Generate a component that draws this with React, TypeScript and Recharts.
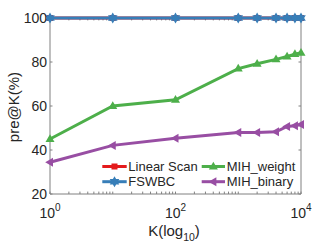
import React from 'react';
import { LineChart, Line, XAxis, YAxis, ReferenceLine, Legend } from 'recharts';

const K_VALUES = [1, 10, 100, 1000, 2000, 4000, 6000, 8000, 10000];
const LINEAR_SCAN = [100, 100, 100, 100, 100, 100, 100, 100, 100];
const FSWBC = [100, 100, 100, 100, 100, 100, 100, 100, 100];
const MIH_WEIGHT = [45, 60, 62.8, 77, 79.2, 81.2, 82.5, 83.6, 84.2];
const MIH_BINARY = [34.4, 42.1, 45.3, 48, 48, 48.3, 50.7, 51, 51.6];

const X_TICKS = [1, 100, 10000];
const Y_TICKS = [20, 40, 60, 80, 100];
const X_MINOR_TICKS = [
  1, 2, 3, 4, 5, 6, 7, 8, 9,
  10, 20, 30, 40, 50, 60, 70, 80, 90,
  100, 200, 300, 400, 500, 600, 700, 800, 900,
  1000, 2000, 3000, 4000, 5000, 6000, 7000, 8000, 9000,
  10000,
];

const FONT = '"Liberation Sans", Arial, Helvetica, sans-serif';
const AXIS = '#808080';
const TEXT = '#262626';

const COLORS = {
  linear: '#e41a1c',
  fswbc: '#377eb8',
  weight: '#4daf4a',
  binary: '#984ea3',
};

const data = K_VALUES.map((k, i) => ({
  k,
  linear: LINEAR_SCAN[i],
  fswbc: FSWBC[i],
  weight: MIH_WEIGHT[i],
  binary: MIH_BINARY[i],
}));

type Shape = 'square' | 'hexagram' | 'up' | 'left';

const Marker = ({ cx, cy, shape, color }: { cx: number; cy: number; shape: Shape; color: string }) => {
  if (shape === 'square') {
    return <rect x={cx - 3} y={cy - 3} width={6} height={6} fill={color} />;
  }
  if (shape === 'hexagram') {
    const pts: string[] = [];
    for (let i = 0; i < 12; i++) {
      const r = i % 2 === 0 ? 5.5 : 3.2;
      const a = (-90 + i * 30) * (Math.PI / 180);
      pts.push(`${cx + r * Math.cos(a)},${cy + r * Math.sin(a)}`);
    }
    return <polygon points={pts.join(' ')} fill={color} />;
  }
  if (shape === 'up') {
    return <polygon points={`${cx},${cy - 4.8} ${cx - 4.5},${cy + 3} ${cx + 4.5},${cy + 3}`} fill={color} />;
  }
  return <polygon points={`${cx - 4.8},${cy} ${cx + 3},${cy - 4.5} ${cx + 3},${cy + 4.5}`} fill={color} />;
};

const SERIES: { key: keyof typeof COLORS; name: string; shape: Shape }[] = [
  { key: 'linear', name: 'Linear Scan', shape: 'square' },
  { key: 'fswbc', name: 'FSWBC', shape: 'hexagram' },
  { key: 'weight', name: 'MIH_weight', shape: 'up' },
  { key: 'binary', name: 'MIH_binary', shape: 'left' },
];

const XTick = ({ x, y, payload }: any) => {
  const exp = Math.round(Math.log10(payload.value));
  return (
    <text x={x} y={y + 24} textAnchor="middle" fontSize={14} fill={TEXT} fontFamily={FONT}>
      10
      <tspan dy={-7} fontSize={10}>{exp}</tspan>
    </text>
  );
};

const YTick = ({ x, y, payload }: any) => (
  <text x={x} y={y} textAnchor="end" dominantBaseline="central" fontSize={14} fill={TEXT} fontFamily={FONT}>
    {payload.value}
  </text>
);

const LegendBox = () => {
  const cols = [
    { line: [2.3, 26.7], text: 28.3 },
    { line: [101.7, 125], text: 126.7 },
  ];
  const rows = [11.5, 26.7];
  return (
    <svg width={170} height={38} style={{ overflow: 'visible' }}>
      {SERIES.map((s, i) => {
        const c = cols[Math.floor(i / 2)];
        const y = rows[i % 2];
        const color = COLORS[s.key];
        return (
          <g key={s.key}>
            <line x1={c.line[0]} x2={c.line[1]} y1={y} y2={y} stroke={color} strokeWidth={3} />
            <Marker cx={(c.line[0] + c.line[1]) / 2} cy={y} shape={s.shape} color={color} />
            <text x={c.text} y={y} dominantBaseline="central" fontSize={13} fill={TEXT} fontFamily={FONT}>
              {s.name}
            </text>
          </g>
        );
      })}
    </svg>
  );
};

export default function App() {
  return (
    <div style={{ position: 'absolute', left: 0, top: 0, width: 332, height: 249, background: '#fff' }}>
      <LineChart width={332} height={249} data={data} margin={{ top: 18, right: 31, bottom: 0, left: 0 }}>
        <XAxis
          dataKey="k"
          type="number"
          scale="log"
          domain={[1, 10000]}
          ticks={X_TICKS}
          tick={<XTick />}
          tickLine={false}
          tickSize={0}
          tickMargin={0}
          axisLine={{ stroke: AXIS }}
          height={55}
          interval={0}
          label={{
            content: () => (
              <text x={174} y={236} textAnchor="middle" fontSize={15} fill={TEXT} fontFamily={FONT}>
                K(log
                <tspan dy={5} fontSize={10.5}>10</tspan>
                <tspan dy={-5}>)</tspan>
              </text>
            ),
          }}
        />
        <YAxis
          type="number"
          domain={[20, 100]}
          ticks={Y_TICKS}
          tick={<YTick />}
          tickLine={false}
          tickSize={0}
          tickMargin={3}
          axisLine={{ stroke: AXIS }}
          width={50}
          interval={0}
          label={{
            content: () => (
              <text
                x={13.5}
                y={107}
                transform="rotate(-90 13.5 107)"
                textAnchor="middle"
                dominantBaseline="central"
                fontSize={15}
                fill={TEXT}
                fontFamily={FONT}
              >
                pre@K(%)
              </text>
            ),
          }}
        />
        <ReferenceLine x={10000} stroke={AXIS} ifOverflow="extendDomain" />
        <ReferenceLine y={100} stroke={AXIS} ifOverflow="extendDomain" />
        {X_MINOR_TICKS.map((t) => (
          <ReferenceLine key={`xb-${t}`} segment={[{ x: t, y: 20 }, { x: t, y: 21.1 }]} stroke={AXIS} />
        ))}
        {X_MINOR_TICKS.map((t) => (
          <ReferenceLine key={`xt-${t}`} segment={[{ x: t, y: 100 }, { x: t, y: 98.9 }]} stroke={AXIS} />
        ))}
        {Y_TICKS.map((t) => (
          <ReferenceLine key={`yl-${t}`} segment={[{ x: 1, y: t }, { x: 1.096, y: t }]} stroke={AXIS} />
        ))}
        {Y_TICKS.map((t) => (
          <ReferenceLine key={`yr-${t}`} segment={[{ x: 10000 / 1.096, y: t }, { x: 10000, y: t }]} stroke={AXIS} />
        ))}
        {SERIES.map((s) => (
          <Line
            key={s.key}
            dataKey={s.key}
            name={s.name}
            type="linear"
            stroke={COLORS[s.key]}
            strokeWidth={3}
            isAnimationActive={false}
            dot={(p: any) => (
              <Marker key={`${s.key}-${p.index}`} cx={p.cx} cy={p.cy} shape={s.shape} color={COLORS[s.key]} />
            )}
            activeDot={false}
          />
        ))}
        <Legend
          layout="horizontal"
          verticalAlign="middle"
          align="center"
          content={() => <LegendBox />}
          wrapperStyle={{ left: 100, top: 155, width: 170, height: 38 }}
        />
      </LineChart>
    </div>
  );
}
